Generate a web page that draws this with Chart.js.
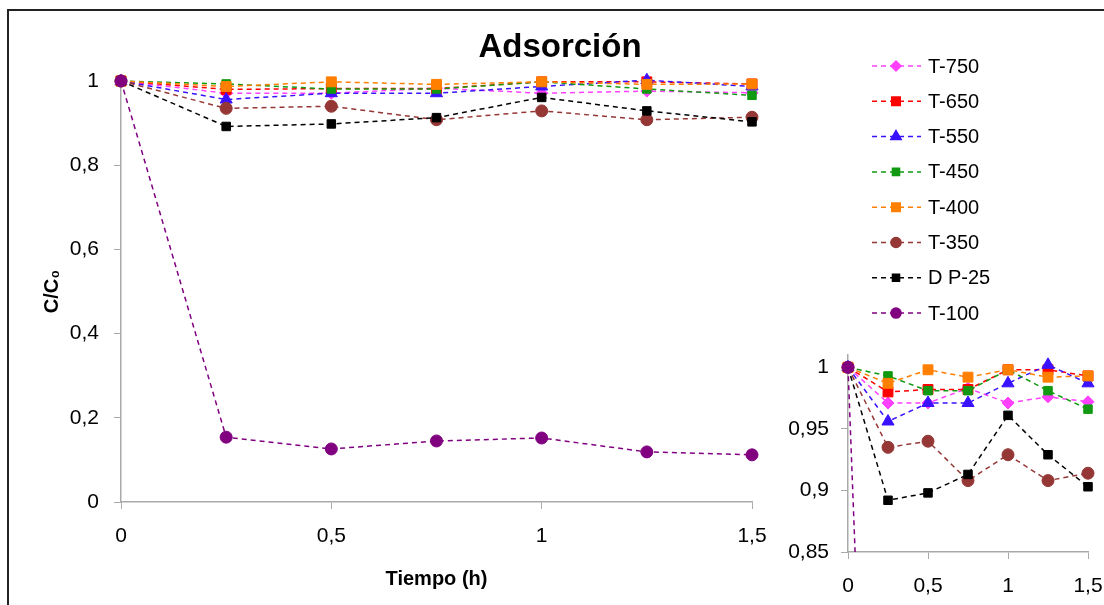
<!DOCTYPE html>
<html>
<head>
<meta charset="utf-8">
<script src="https://cdn.jsdelivr.net/npm/chart.js@4.4.1/dist/chart.umd.min.js"></script>
<style>
    body { margin: 0; background: #fff; }
    #wrap { position: relative; width: 1104px; height: 605px; overflow: hidden; }
    #frame { position: absolute; left: 7px; top: 9px; width: 1120px; height: 620px; border: 2px solid #222; box-sizing: border-box; }
    #main { position: absolute; left: 0; top: 0; }
    #inset { position: absolute; left: 770px; top: 340px; }
</style>
</head>
<body>
<div id="wrap">
    <div id="frame"></div>
    <canvas id="main" width="1104" height="605"></canvas>
    <canvas id="inset" width="334" height="265"></canvas>
</div>
<script>
// tiempo (h)
const times = [0, 0.25, 0.5, 0.75, 1, 1.25, 1.5];

// C/C0 por muestra
const t750 = [1, 0.971, 0.971, 0.983, 0.971, 0.976, 0.972];
const t650 = [1, 0.980, 0.982, 0.982, 0.998, 0.998, 0.993];
const t550 = [1, 0.956, 0.971, 0.971, 0.987, 1.002, 0.987];
const t450 = [1, 0.993, 0.981, 0.981, 0.998, 0.981, 0.966];
const t400 = [1, 0.987, 0.998, 0.992, 0.998, 0.992, 0.993];
const t350 = [1, 0.935, 0.940, 0.908, 0.929, 0.908, 0.914];
const dp25 = [1, 0.892, 0.898, 0.913, 0.961, 0.929, 0.903];
const t100 = [1, 0.154, 0.126, 0.145, 0.152, 0.119, 0.112];

const seriesNames = ['T-750', 'T-650', 'T-550', 'T-450', 'T-400', 'T-350', 'D P-25', 'T-100'];
const seriesValues = [t750, t650, t550, t450, t400, t350, dp25, t100];

const mainXTicks = [0, 0.5, 1, 1.5];
const mainYTicks = [0, 0.2, 0.4, 0.6, 0.8, 1];
const insetXTicks = [0, 0.5, 1, 1.5];
const insetYTicks = [0.85, 0.9, 0.95, 1];

const colors = ['#ff40ff', '#ff0000', '#3a12ff', '#119a11', '#ff7f00', '#953735', '#000000', '#800080'];
const markers = ['rectRot', 'rect', 'triangle', 'rect', 'rect', 'circle', 'rect', 'circle'];
const radii = [6, 7, 7, 6, 7, 6, 6, 6];

Chart.defaults.font.family = '"Liberation Sans", Arial, sans-serif';
Chart.defaults.color = '#000';
Chart.defaults.animation = false;

function comma(v) {
    return String(Number(v.toFixed(2))).replace('.', ',');
}

function buildDatasets(clip) {
    return seriesNames.map((name, i) => ({
        label: name,
        data: times.map((t, j) => ({ x: t, y: seriesValues[i][j] })),
        borderColor: colors[i],
        backgroundColor: colors[i],
        borderWidth: 1.5,
        borderDash: [5, 4],
        pointStyle: markers[i],
        pointRadius: radii[i],
        pointBorderWidth: 1,
        tension: 0,
        clip: clip,
        order: seriesNames.length - i
    }));
}

function axis(min, max, ticks, tickSize, tickPad, fixedSize, title) {
    return {
        type: 'linear',
        min: min,
        max: max,
        afterBuildTicks: s => { s.ticks = ticks.map(v => ({ value: v })); },
        afterFit: s => {
            // fixed box size, layout padding gives the room for end labels
            if (s.isHorizontal()) {
                s.height = fixedSize;
                s.paddingLeft = 0;
                s.paddingRight = 0;
            } else {
                s.width = fixedSize;
                s.paddingTop = 0;
                s.paddingBottom = 0;
            }
        },
        ticks: {
            font: { size: tickSize },
            padding: tickPad,
            autoSkip: false,
            maxRotation: 0,
            callback: v => comma(v)
        },
        grid: { drawOnChartArea: false, drawTicks: true, tickLength: 7, color: '#aaa' },
        border: { color: '#aaa', width: 1.5 },
        title: title || { display: false }
    };
}

// titulo y leyenda en posiciones fijas
const labelsPlugin = {
    id: 'labels',
    afterDraw(chart) {
        const ctx = chart.ctx;
        ctx.save();
        ctx.fillStyle = '#000';
        ctx.font = 'bold 33px "Liberation Sans", Arial, sans-serif';
        ctx.textAlign = 'center';
        ctx.textBaseline = 'alphabetic';
        ctx.fillText('Adsorción', 560, 57);

        ctx.font = '20px "Liberation Sans", Arial, sans-serif';
        ctx.textAlign = 'left';
        ctx.textBaseline = 'middle';
        chart.data.datasets.forEach((ds, i) => {
            const y = 66 + i * 35.3;
            ctx.strokeStyle = ds.borderColor;
            ctx.lineWidth = 1.5;
            ctx.setLineDash([5, 4]);
            ctx.beginPath();
            ctx.moveTo(872, y);
            ctx.lineTo(921, y);
            ctx.stroke();
            ctx.setLineDash([]);
            ctx.fillStyle = ds.backgroundColor;
            Chart.helpers.drawPoint(ctx, { pointStyle: ds.pointStyle, radius: ds.pointRadius - 1, borderWidth: 1, rotation: 0 }, 896, y);
            ctx.fillStyle = '#000';
            ctx.fillText(ds.label, 928, y + 1);
        });
        ctx.restore();
    }
};

new Chart(document.getElementById('main'), {
    type: 'line',
    data: { datasets: buildDatasets(false) },
    options: {
        responsive: false,
        layout: { padding: { top: 81, right: 352, left: 0, bottom: 14 } },
        plugins: { legend: { display: false }, tooltip: { enabled: false } },
        scales: {
            x: axis(0, 1.5, mainXTicks, 21, 15, 89, {
                display: true, text: 'Tiempo (h)',
                font: { size: 20, weight: 'bold' }, padding: { top: 0, bottom: 0 }
            }),
            y: axis(0, 1, mainYTicks, 21, 15, 121, {
                display: true, text: 'C/C₀',
                font: { size: 20, weight: 'bold' }, padding: { top: 40, bottom: 0 }
            })
        }
    },
    plugins: [labelsPlugin]
});

new Chart(document.getElementById('inset'), {
    type: 'line',
    data: { datasets: buildDatasets({ left: 10, right: 10, top: 10, bottom: 0 }) },
    options: {
        responsive: false,
        layout: { padding: { top: 15, right: 16, left: 0, bottom: 0 } },
        plugins: { legend: { display: false }, tooltip: { enabled: false } },
        scales: {
            x: axis(0, 1.5, insetXTicks, 21, 15, 53),
            y: axis(0.85, 1.01, insetYTicks, 21, 12, 78)
        }
    }
});
</script>
</body>
</html>
